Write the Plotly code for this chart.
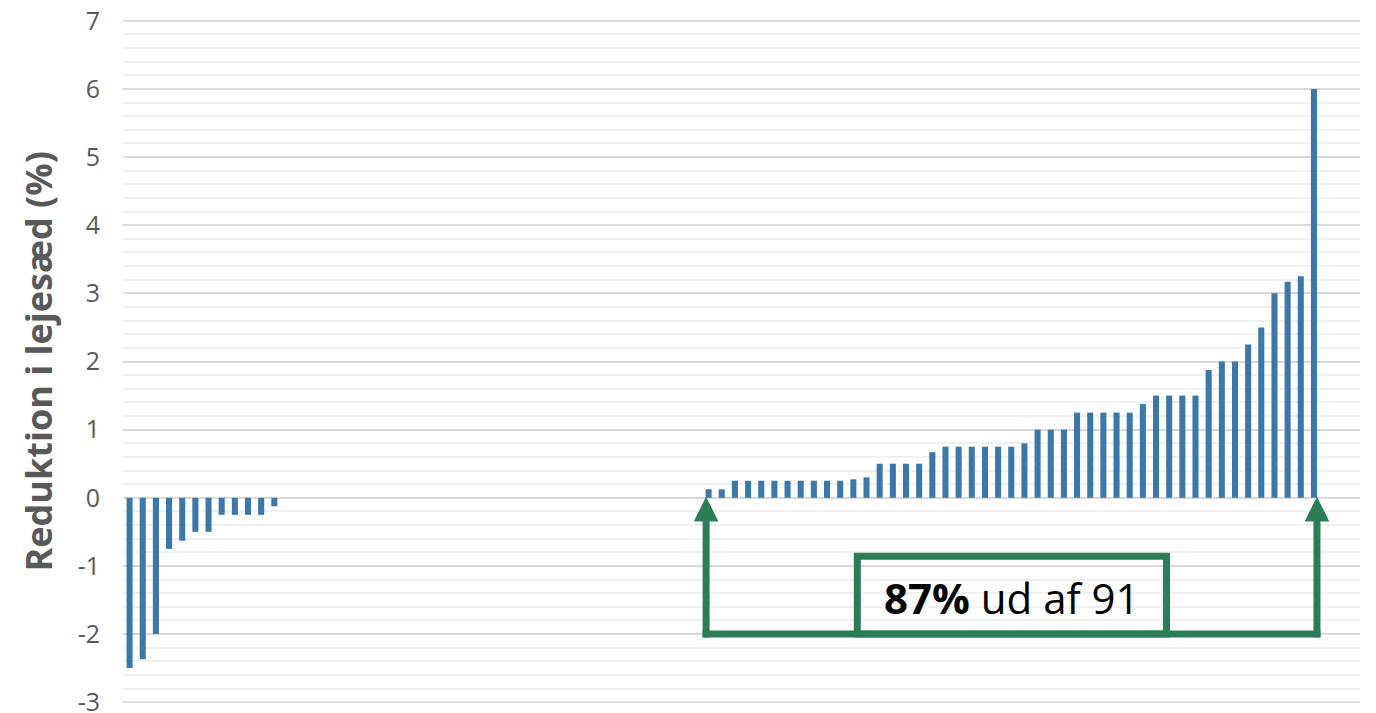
import plotly.graph_objects as go

negative_values = [-2.5, -2.37, -2.0, -0.75, -0.63, -0.5, -0.5, -0.25, -0.25, -0.25, -0.25, -0.125]
zero_values = [0, 0, 0, 0, 0, 0, 0, 0, 0, 0, 0, 0, 0, 0, 0, 0,
               0, 0, 0, 0, 0, 0, 0, 0, 0, 0, 0, 0, 0, 0, 0, 0]
positive_values = [0.125, 0.125,
                   0.25, 0.25, 0.25, 0.25, 0.25, 0.25, 0.25, 0.25, 0.25,
                   0.27, 0.3,
                   0.5, 0.5, 0.5, 0.5,
                   0.67,
                   0.75, 0.75, 0.75, 0.75, 0.75, 0.75,
                   0.8,
                   1.0, 1.0, 1.0,
                   1.25, 1.25, 1.25, 1.25, 1.25,
                   1.375,
                   1.5, 1.5, 1.5, 1.5,
                   1.875,
                   2.0, 2.0,
                   2.25, 2.5, 3.0, 3.17, 3.25, 6.0]

values = negative_values + zero_values + positive_values
positions = list(range(len(values)))

y_ticks = [-3, -2, -1, 0, 1, 2, 3, 4, 5, 6, 7]
y_title = "Reduktion i lejesæd (%)"
box_text = "<b>87%</b> ud af 91"

BAR = "#3b77a7"
GREEN = "#2b7d56"
GRID = "#d9d9d9"
MINOR = "#f0f0f0"

# page body adds an 8px margin, so the figure is sized to fit the window
W, H = 1368, 705
ML, MR, MT, MB = 115, 16, 12, 10
plot_w = W - ML - MR

fig = go.Figure()
fig.add_trace(go.Bar(x=positions, y=values, width=0.46,
                     marker=dict(color=BAR, line=dict(width=0)),
                     showlegend=False, hoverinfo="skip"))

first_pos = len(negative_values) + len(zero_values)
last_pos = len(values) - 1
xl = first_pos - 0.19
xr = last_pos + 0.23
y_line = -2.0
y_head = -0.34
hw = 0.88
lw = 7

shapes = []
# major gridlines at the range edges (plotly omits them)
for yv in (y_ticks[0], y_ticks[-1]):
    shapes.append(dict(type="line", xref="paper", yref="y", x0=0, x1=1, y0=yv, y1=yv,
                       layer="below", line=dict(color=GRID, width=2)))
shapes.append(dict(type="line", xref="x", yref="y", x0=xl - 0.27, x1=xr + 0.27,
                   y0=y_line, y1=y_line, line=dict(color=GREEN, width=lw)))
for xa in (xl, xr):
    shapes.append(dict(type="line", xref="x", yref="y", x0=xa, x1=xa,
                       y0=y_line - 0.05, y1=y_head + 0.02, line=dict(color=GREEN, width=lw)))
    shapes.append(dict(type="path", xref="x", yref="y",
                       path=f"M {xa},0 L {xa - hw},{y_head} L {xa + hw},{y_head} Z",
                       fillcolor=GREEN, line=dict(color=GREEN, width=1)))
shapes.append(dict(type="rect", xref="x", yref="y", x0=55.3, x1=78.8,
                   y0=y_line, y1=-0.86, line=dict(color=GREEN, width=lw),
                   fillcolor="rgba(0,0,0,0)"))

fig.update_layout(
    width=W, height=H,
    margin=dict(l=ML, r=MR, t=MT, b=MB),
    paper_bgcolor="white", plot_bgcolor="white",
    bargap=0.54,
    shapes=shapes,
    annotations=[
        dict(x=(55.3 + 78.8) / 2, y=-1.47, xref="x", yref="y",
             text=box_text, showarrow=False,
             font=dict(family="Open Sans", size=42, color="black")),
        dict(x=-(ML - 30) / plot_w, y=0.5, xref="paper", yref="paper",
             xanchor="center", yanchor="middle", textangle=-90,
             text="<b>" + y_title + "</b>", showarrow=False,
             font=dict(family="Open Sans", size=36, color="#595959")),
    ],
    font=dict(family="Open Sans", color="#595959"),
)
fig.update_xaxes(range=[-0.5, 93.5], showticklabels=False, showgrid=False,
                 zeroline=False, showline=False, ticks="", automargin=False)
fig.update_yaxes(range=[-3.012, 7.012], tickvals=y_ticks, ticktext=[str(v) for v in y_ticks],
                 tickfont=dict(size=25, color="#595959"),
                 showgrid=True, gridcolor=GRID, gridwidth=2,
                 minor=dict(dtick=0.2, showgrid=True, gridcolor=MINOR, gridwidth=2, tick0=0),
                 zeroline=True, zerolinecolor=GRID, zerolinewidth=2,
                 showline=False, ticks="", ticklabelstandoff=22,
                 ticklabeloverflow="allow", automargin=False)

fig.write_html("out.html")
